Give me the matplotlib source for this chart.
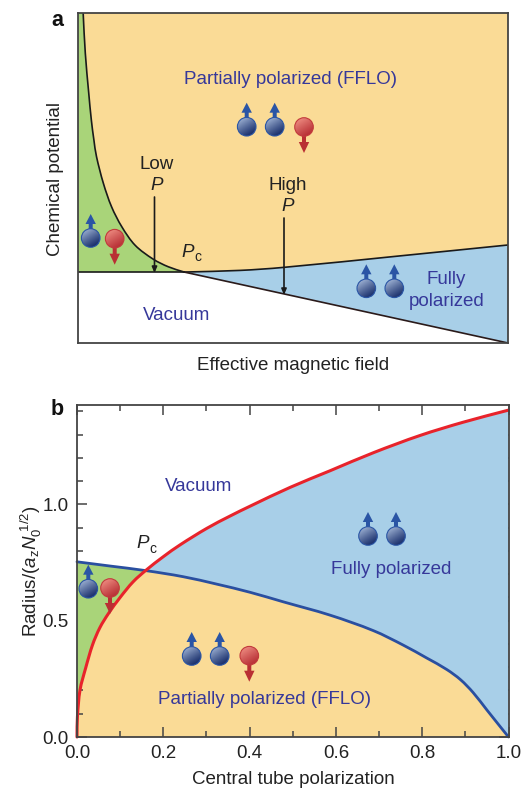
import numpy as np
import matplotlib
matplotlib.use("Agg")
import matplotlib.pyplot as plt
from matplotlib.patches import Circle, Polygon, PathPatch
from matplotlib.path import Path
from matplotlib.ticker import MultipleLocator

plt.rcParams['font.family'] = ['Liberation Sans', 'DejaVu Sans']
plt.rcParams['mathtext.fontset'] = 'custom'
plt.rcParams['mathtext.rm'] = 'Liberation Sans'
plt.rcParams['mathtext.it'] = 'Liberation Sans:italic'
plt.rcParams['mathtext.bf'] = 'Liberation Sans:bold'

# ---- panel a data (axes run 0..1 on both sides) ----
a_curve_x = [0.012, 0.017, 0.025, 0.031, 0.037, 0.043, 0.059, 0.078, 0.102, 0.133, 0.175, 0.210, 0.247]
a_curve_y = [1.000, 0.878, 0.757, 0.676, 0.615, 0.565, 0.484, 0.413, 0.352, 0.296, 0.254, 0.231, 0.215]
a_upper_x = [0.247, 0.377, 0.477, 0.749, 1.000]
a_upper_y = [0.215, 0.220, 0.229, 0.264, 0.297]
a_lower_x = [0.247, 1.000]
a_lower_y = [0.215, 0.000]

# ---- panel b data ----
b_red_x = [0.000, 0.001, 0.007, 0.020, 0.036, 0.053, 0.073, 0.100, 0.130, 0.160,
           0.200, 0.239, 0.301, 0.355, 0.401, 0.494, 0.586, 0.687, 0.795, 0.895, 1.000]
b_red_y = [0.000, 0.087, 0.202, 0.296, 0.396, 0.470, 0.531, 0.600, 0.667, 0.717,
           0.775, 0.826, 0.897, 0.950, 0.992, 1.073, 1.144, 1.222, 1.296, 1.353, 1.405]
b_blue_x = [0.000, 0.076, 0.160, 0.246, 0.324, 0.401, 0.478, 0.586, 0.687, 0.756, 0.811,
            0.857, 0.889, 0.918, 0.950, 1.000]
b_blue_y = [0.753, 0.735, 0.715, 0.689, 0.657, 0.622, 0.581, 0.524, 0.457, 0.395, 0.339,
            0.290, 0.246, 0.191, 0.116, 0.000]
b_ylim_top = 1.427
b_xticks = [0.0, 0.2, 0.4, 0.6, 0.8, 1.0]
b_yticks = [0.0, 0.5, 1.0]

GREEN, ORANGE, BLUE = '#a9d479', '#fadb96', '#a8cfe8'
SPINE = '#444444'
TXT_BLUE = '#36389a'
TXT = '#222222'
FS = 13.5
W, H = 523, 788

fig = plt.figure(figsize=(W / 100, H / 100), dpi=100)


def axes_px(l, t, r, b, **kw):
    return fig.add_axes([l / W, 1 - b / H, (r - l) / W, (b - t) / H], **kw)


def smooth_line(axis, xs, ys, yscale, **kw):
    """Stroke the read points as one smooth Bezier path through them."""
    p = np.column_stack([xs, np.array(ys) * yscale])
    n = len(p)
    tang = np.zeros_like(p)
    tang[1:-1] = p[2:] - p[:-2]
    tang[0] = p[1] - p[0]
    tang[-1] = p[-1] - p[-2]
    tang /= np.linalg.norm(tang, axis=1, keepdims=True)
    verts, codes = [p[0]], [Path.MOVETO]
    for i in range(n - 1):
        d = np.linalg.norm(p[i + 1] - p[i]) / 3
        verts += [p[i] + tang[i] * d, p[i + 1] - tang[i + 1] * d, p[i + 1]]
        codes += [Path.CURVE4] * 3
    verts = np.array(verts)
    verts[:, 1] /= yscale
    axis.add_patch(PathPatch(Path(verts, codes), fc='none', capstyle='round', **kw))


# ---- panel a ----
ax = axes_px(78, 13, 508, 343)
ax.set_xlim(0, 1)
ax.set_ylim(0, 1)
ax.fill_between([0, 1], 0, 1, color=ORANGE, lw=0, zorder=1)
ax.fill([0] + a_curve_x[::-1] + [0], [a_curve_y[-1]] + a_curve_y[::-1] + [1],
        color=GREEN, lw=0, zorder=2)
ax.fill(a_upper_x + a_lower_x[::-1], a_upper_y + a_lower_y[::-1], color=BLUE, lw=0, zorder=2)
ax.fill([0] + a_lower_x + [0], [a_lower_y[0]] + a_lower_y + [0], color='white', lw=0, zorder=3)
smooth_line(ax, a_curve_x, a_curve_y, 330 / 430, ec='#1a1a1a', lw=1.2, zorder=4)
smooth_line(ax, a_upper_x, a_upper_y, 330 / 430, ec='#1a1a1a', lw=1.2, zorder=4)
ax.plot(a_lower_x, a_lower_y, color='#2a1a1a', lw=1.2, zorder=4)
ax.plot([0, a_curve_x[-1]], [a_curve_y[-1]] * 2, color='#1a1a1a', lw=1.2, zorder=4)
ax.set_xticks([])
ax.set_yticks([])
for s in ax.spines.values():
    s.set_color(SPINE)
    s.set_linewidth(1.3)
    s.set_zorder(6)

# ---- panel b ----
bx = axes_px(77, 405, 508.5, 737)
bx.set_xlim(0, 1)
bx.set_ylim(0, b_ylim_top)
bx.fill(b_red_x + [1.0], b_red_y + [0.0], color=ORANGE, lw=0, zorder=1)
pc = b_red_x.index(0.160)
bx.fill(b_red_x[:pc + 1] + [b_blue_x[1], 0.0], b_red_y[:pc + 1] + [b_blue_y[1], b_blue_y[0]],
        color=GREEN, lw=0, zorder=2)
pb = b_blue_x.index(0.160)
bx.fill(b_blue_x[pb:] + b_red_x[:pc - 1:-1], b_blue_y[pb:] + b_red_y[:pc - 1:-1],
        color=BLUE, lw=0, zorder=2)
smooth_line(bx, b_blue_x, b_blue_y, 232.7 / 431.5, ec='#2a4fa0', lw=2, zorder=4, clip_on=False)
smooth_line(bx, b_red_x, b_red_y, 232.7 / 431.5, ec='#e8232b', lw=2.2, zorder=5, clip_on=False)
bx.set_xticks(b_xticks)
bx.set_yticks(b_yticks)
bx.set_xticklabels([f'{v:.1f}' for v in b_xticks])
bx.set_yticklabels([f'{v:.1f}' for v in b_yticks])
bx.xaxis.set_minor_locator(MultipleLocator(0.1))
bx.yaxis.set_minor_locator(MultipleLocator(0.1))
bx.tick_params(which='major', direction='in', length=7.5, width=1.1, color=SPINE,
               top=True, right=True, labelsize=FS, labelcolor=TXT, pad=6)
bx.tick_params(axis='y', which='major', pad=6)
bx.tick_params(which='minor', direction='in', length=4.3, width=1.1, color=SPINE,
               top=True, right=True)
for s in bx.spines.values():
    s.set_color(SPINE)
    s.set_linewidth(1.3)
    s.set_zorder(6)

# ---- overlay in pixel coordinates ----
ov = fig.add_axes([0, 0, 1, 1], zorder=20)
ov.patch.set_alpha(0)
ov.axis('off')

yy, xx = np.mgrid[-1:1:64j, -1:1:64j]
shade = np.clip(0.5 + 0.5 * (-(xx * 0.55) - (yy * 0.9)), 0, 1) ** 1.1


def gradient(light, dark):
    l, d = np.array(light), np.array(dark)
    return (shade[..., None] * l + (1 - shade[..., None]) * d) / 255


BLUE_IMG = gradient((150, 170, 205), (28, 50, 110))
RED_IMG = gradient((235, 135, 125), (185, 50, 55))


def sphere(cx, cy, up):
    r = 9.3
    img = BLUE_IMG if up else RED_IMG
    col = '#2a55a5' if up else '#c23a3c'
    im = ov.imshow(img, extent=(cx - r, cx + r, cy + r, cy - r), zorder=3, aspect='auto')
    clip = Circle((cx, cy), r, transform=ov.transData)
    im.set_clip_path(clip)
    ov.add_patch(Circle((cx, cy), r, fc='none', ec=col, lw=0.8, zorder=4))
    s = -1 if up else 1
    tip = 24 if up else 26
    base = 14 if up else 15
    ov.add_patch(Polygon([(cx - 2, cy + s * 8), (cx + 2, cy + s * 8), (cx + 2, cy + s * base),
                          (cx + 5.2, cy + s * base), (cx, cy + s * tip), (cx - 5.2, cy + s * base),
                          (cx - 2, cy + s * base)],
                         fc=('#2a55a5' if up else '#b92f33'), ec='none', zorder=2))


for c in [(246.7, 126.7, True), (274.7, 126.7, True), (304, 127, False),
          (90.7, 238, True), (114.7, 238.7, False),
          (366.3, 288.3, True), (394.3, 288.3, True),
          (88.3, 588.7, True), (110, 588, False),
          (191.7, 656, True), (219.7, 656, True), (249.3, 655.7, False),
          (368, 536, True), (396, 536, True)]:
    sphere(*c)

for x0, y0, y1 in [(154.5, 197, 273), (284, 218, 295)]:
    ov.annotate('', xy=(x0, y1), xytext=(x0, y0), zorder=7,
                arrowprops=dict(arrowstyle='-|>,head_width=0.15,head_length=0.35',
                                lw=1.2, color='#1a1a1a', shrinkA=0, shrinkB=0))


def label(x, y, s, color=TXT, size=FS, **kw):
    kw.setdefault('ha', 'center')
    kw.setdefault('va', 'center')
    ov.text(x, y, s, color=color, fontsize=size, zorder=8, **kw)


label(57, 20, 'a', color='#111111', size=15.5, fontweight='bold')
label(57, 409, 'b', color='#111111', size=15.5, fontweight='bold')
label(56, 179, 'Chemical potential', rotation=90)
label(293, 365, 'Effective magnetic field')
label(31, 571, r'Radius/($\mathit{a}_{\mathrm{z}}\mathit{N}_{0}^{\ 1/2}$)', rotation=90)
label(293, 780, 'Central tube polarization')

label(157, 164, 'Low')
label(157, 185, 'P', style='italic')
label(288, 185, 'High')
label(288, 206, 'P', style='italic')
label(188, 252, 'P', style='italic')
label(198, 257, 'c', size=10)
label(143, 544, 'P', style='italic')
label(153, 549, 'c', size=10)

label(291, 79, 'Partially polarized (FFLO)', color=TXT_BLUE)
label(177, 315, 'Vacuum', color=TXT_BLUE)
label(446, 279, 'Fully', color=TXT_BLUE)
label(447, 301, 'polarized', color=TXT_BLUE)
label(199, 486, 'Vacuum', color=TXT_BLUE)
label(391, 570, 'Fully polarized', color=TXT_BLUE)
label(264, 700, 'Partially polarized (FFLO)', color=TXT_BLUE)

ov.set_xlim(0, W)
ov.set_ylim(H, 0)

fig.savefig('out.png', dpi=100)
